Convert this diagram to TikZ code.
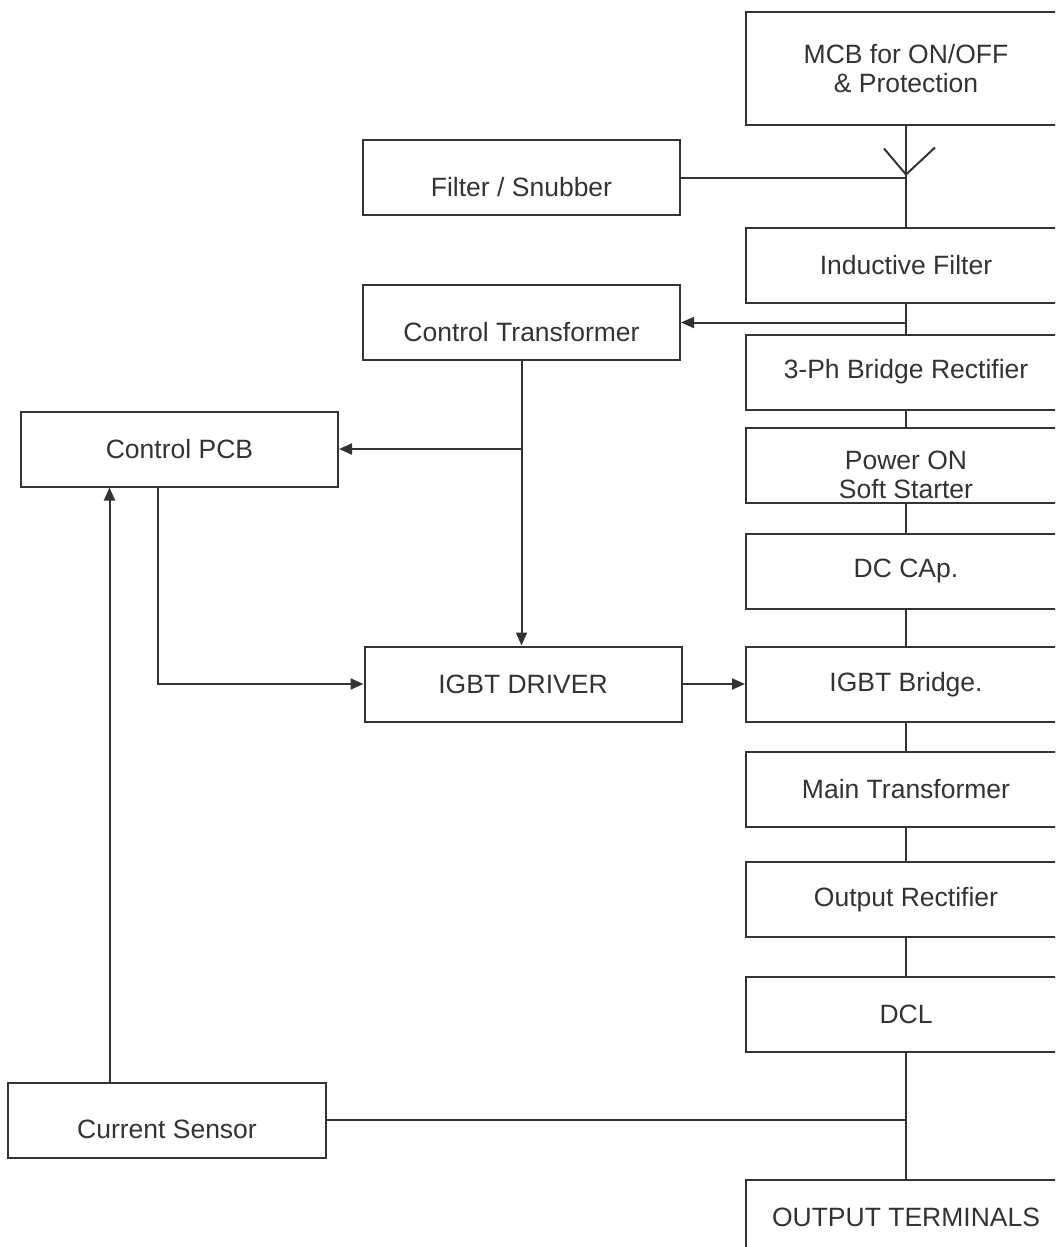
\documentclass[tikz,border=0pt]{standalone}
\usepackage{fontspec}
\setmainfont{Liberation Sans}
\usetikzlibrary{arrows.meta}
\definecolor{ink}{HTML}{333333}

\begin{document}
\begin{tikzpicture}[x=1pt,y=-1pt,
   ink, line width=2pt,
   every node/.style={font=\fontsize{26.5}{29}\selectfont,text=ink},
   blk/.style={draw,minimum width=317pt,minimum height=75pt,inner sep=0pt,align=center},
   wide/.style={blk,minimum width=320pt},
   low/.style={text height=37pt,text depth=0pt},
   arr/.style={-{Triangle[length=13pt,width=11pt]}}]
\useasboundingbox (0,0) rectangle (1055,1247);
\clip (0,0) rectangle (1055,1247);
% power path
\node[wide,minimum height=113pt] (mcb) at (906,68.5) {MCB for ON/OFF\\\& Protection};
\node[wide] (ind) at (906,265.5) {Inductive Filter};
\node[wide] (rect) at (906,372) {3-Ph Bridge Rectifier};
\node[wide,text height=66pt,text depth=0pt] (soft) at (906,465.5) {Power ON\\Soft Starter};
\node[wide] (dccap) at (906,571) {DC CAp.};
\node[wide] (bridge) at (906,684.5) {IGBT Bridge.};
\node[wide] (mtr) at (906,789.5) {Main Transformer};
\node[wide] (orect) at (906,899.5) {Output Rectifier};
\node[wide] (dcl) at (906,1014.5) {DCL};
\node[wide] (out) at (906,1217.5) {OUTPUT TERMINALS};
% control side
\node[blk,low] (filt) at (521.5,177.5) {Filter / Snubber};
\node[blk,low] (ct) at (521.5,322.5) {Control Transformer};
\node[blk] (pcb) at (179.5,449) {Control PCB};
\node[blk] (drv) at (523,684) {IGBT DRIVER};
\node[blk,low,minimum width=318pt] (sensor) at (167,1120) {Current Sensor};

\draw (mcb.south) -- (ind.north);
\foreach \a/\b in {ind/rect,rect/soft,soft/dccap,dccap/bridge,bridge/mtr,mtr/orect,orect/dcl,dcl/out}
  \draw (\a.south) -- (\b.north);
\coordinate (tap) at (mcb.south |- filt.east);
\draw (filt.east) -- (tap);
\draw ([yshift=3pt]tap) ++(-22,-26) -- ([yshift=3pt]tap) -- ++(29,-27);
\draw[arr] (ind.south |- ct.east) -- (ct.east);
\draw[arr] (ct.south) -- (ct.south |- drv.north);
\draw[arr] (ct.south |- pcb.east) -- (pcb.east);
\draw[arr] ([xshift=-21.5pt]pcb.south) |- (drv.west);
\draw[arr] (drv.east) -- (drv.east -| bridge.west);
\draw (sensor.east) -- (sensor.east -| dcl.south);
\draw[arr] ([xshift=-57.5pt]sensor.north) -- ([xshift=-57.5pt]sensor.north |- pcb.south);
\end{tikzpicture}
\end{document}
